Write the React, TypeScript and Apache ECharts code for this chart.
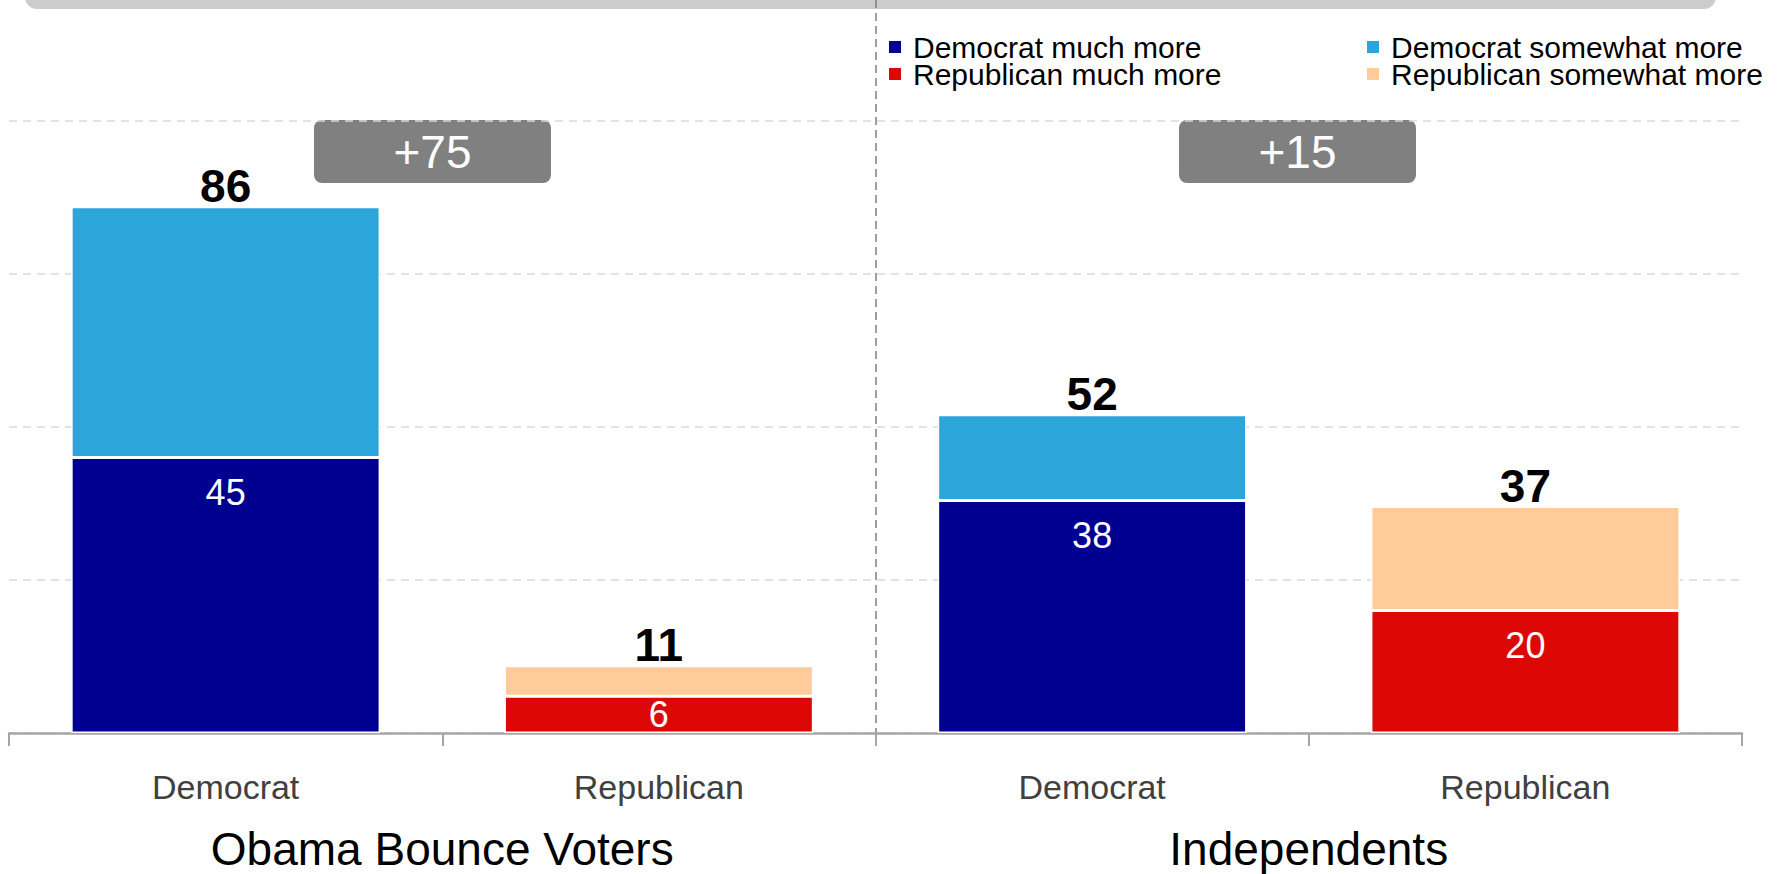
import React, { useEffect, useRef } from "react";
import * as echarts from "echarts";

const categories = ["Democrat", "Republican", "Democrat", "Republican"];
const groups = ["Obama Bounce Voters", "Independents"];
const demMuch = [45, null, 38, null];
const demSome = [41, null, 14, null];
const repMuch = [null, 6, null, 20];
const repSome = [null, 5, null, 17];
const seriesNames = [
  "Democrat much more",
  "Democrat somewhat more",
  "Republican much more",
  "Republican somewhat more",
];
const colors = ["#000090", "#2CA5DB", "#DD0806", "#FFCC99"];

const FONT = "'Liberation Sans', Arial, sans-serif";

export default function App() {
  const ref = useRef<HTMLDivElement>(null);
  useEffect(() => {
    if (!ref.current) return;
    const chart = echarts.init(ref.current, null, { renderer: "svg" });
    const totals = categories.map(
      (_, i) =>
        (demMuch[i] ?? 0) + (demSome[i] ?? 0) + (repMuch[i] ?? 0) + (repSome[i] ?? 0)
    );
    const diffs = groups.map((_, g) => totals[g * 2] - totals[g * 2 + 1]);

    const innerLabel = {
      show: true,
      position: "insideTop",
      distance: 17,
      color: "#ffffff",
      fontSize: 36,
      fontFamily: FONT,
    };
    const mkInner = (arr: (number | null)[]) =>
      arr.map((v) =>
        v == null
          ? null
          : v < 10
          ? { value: v, label: { position: "inside", distance: 0 } }
          : v
      );
    const totalLabel = {
      show: true,
      position: "top",
      distance: -2,
      color: "#000000",
      fontSize: 46,
      fontWeight: "bold",
      fontFamily: FONT,
      formatter: (p: any) => String(totals[p.dataIndex]),
    };
    const itemStyle = (c: string) => ({ color: c, borderColor: "#ffffff", borderWidth: 1.5 });

    const legendPos = [
      { left: 887, top: 32 },
      { left: 1365, top: 32 },
      { left: 887, top: 59 },
      { left: 1365, top: 59 },
    ];

    const boxXs = [314, 1179];

    chart.setOption({
      animation: false,
      textStyle: { fontFamily: FONT },
      grid: { left: 9, right: 46, top: 121, bottom: 141, containLabel: false },
      legend: seriesNames.map((name, k) => ({
        data: [name],
        left: legendPos[k].left,
        top: legendPos[k].top,
        padding: 0,
        itemWidth: 14,
        itemHeight: 14,
        icon: "rect",
        selectedMode: false,
        textStyle: {
          fontSize: 30,
          lineHeight: 26,
          color: "#000",
          fontFamily: FONT,
          padding: [0, 0, 0, 6],
        },
      })),
      xAxis: [
        {
          type: "category",
          data: categories,
          axisLine: { lineStyle: { color: "#a6a6a6", width: 2.5 } },
          axisTick: { show: true, length: 13, lineStyle: { color: "#a6a6a6", width: 2 } },
          axisLabel: { fontSize: 34, color: "#404040", margin: 37, fontFamily: FONT },
        },
        {
          type: "category",
          data: groups,
          position: "bottom",
          axisLine: { show: false },
          axisTick: { show: false },
          axisLabel: {
            fontSize: 46,
            lineHeight: 40,
            color: "#000",
            margin: 96,
            fontFamily: FONT,
          },
        },
      ],
      yAxis: {
        type: "value",
        min: 0,
        max: 100,
        interval: 25,
        axisLine: { show: false },
        axisTick: { show: false },
        axisLabel: { show: false },
        splitLine: { lineStyle: { color: "#d9d9d9", width: 1.5, type: [8, 6] } },
      },
      series: [
        {
          name: seriesNames[0],
          type: "bar",
          stack: "t",
          barWidth: "71.3%",
          data: mkInner(demMuch),
          itemStyle: itemStyle(colors[0]),
          label: innerLabel,
        },
        {
          name: seriesNames[1],
          type: "bar",
          stack: "t",
          barWidth: "71.3%",
          data: demSome,
          itemStyle: itemStyle(colors[1]),
          label: totalLabel,
        },
        {
          name: seriesNames[2],
          type: "bar",
          stack: "t",
          barWidth: "71.3%",
          data: mkInner(repMuch),
          itemStyle: itemStyle(colors[2]),
          label: innerLabel,
        },
        {
          name: seriesNames[3],
          type: "bar",
          stack: "t",
          barWidth: "71.3%",
          data: repSome,
          itemStyle: itemStyle(colors[3]),
          label: totalLabel,
        },
      ],
      graphic: [
        {
          type: "rect",
          shape: { x: 25, y: -40, width: 1691, height: 49, r: 12 },
          style: { fill: "#cccccc" },
        },
        {
          type: "line",
          shape: { x1: 876, y1: 0, x2: 876, y2: 733 },
          style: { stroke: "#7f7f7f", lineWidth: 1.5, lineDash: [8, 5] },
        },
        ...diffs.flatMap((d, g) => [
          {
            type: "rect",
            shape: { x: boxXs[g], y: 120, width: 237, height: 63, r: 8 },
            style: { fill: "#808080" },
          },
          {
            type: "text",
            x: boxXs[g] + 118.5,
            y: 151.5,
            style: {
              text: (d >= 0 ? "+" : "") + d,
              fill: "#ffffff",
              fontSize: 46,
              fontFamily: FONT,
              align: "center",
              verticalAlign: "middle",
            },
          },
        ]),
      ],
    });
    return () => chart.dispose();
  }, []);
  return (
    <div
      ref={ref}
      style={{ position: "fixed", left: 0, top: 0, width: 1788, height: 874, background: "#fff" }}
    />
  );
}
